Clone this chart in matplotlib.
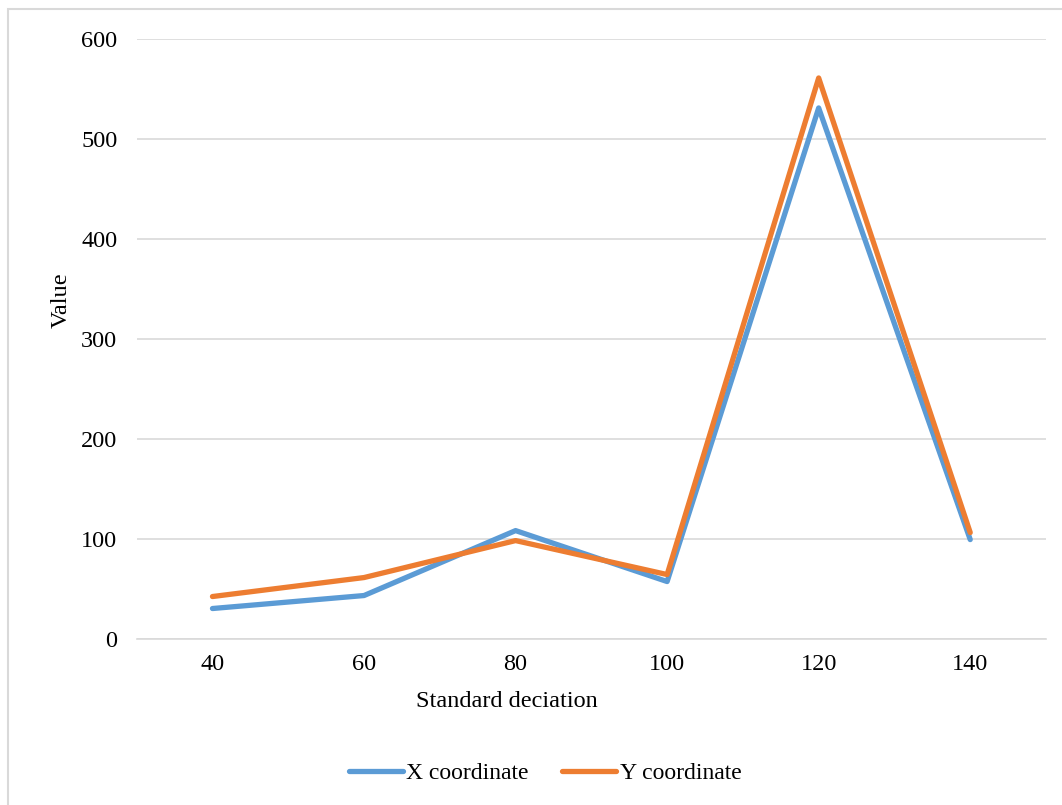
import numpy as np
import matplotlib.pyplot as plt
from matplotlib.patches import Rectangle

plt.rcParams['font.family'] = ['Liberation Serif', 'DejaVu Serif']

# data
categories = ['40', '60', '80', '100', '120', '140']
x_coord = [30, 43, 108, 57, 531, 99]
y_coord = [42, 61, 98, 64, 561, 106]

W, H = 1062, 805
fig = plt.figure(figsize=(W / 100, H / 100), dpi=100)
ax = fig.add_axes([136.7 / W, 1 - 638.5 / H, (1046 - 136.7) / W, (638.5 - 39) / H])

pos = np.arange(len(categories))
ax.plot(pos, x_coord, color='#5B9BD5', lw=3.8, solid_capstyle='round',
        solid_joinstyle='round', label='X coordinate', zorder=3)
ax.plot(pos, y_coord, color='#ED7D31', lw=3.8, solid_capstyle='round',
        solid_joinstyle='round', label='Y coordinate', zorder=4)

ax.set_xlim(-0.5, len(categories) - 0.5)
ax.set_ylim(0, 600)
ax.set_yticks(np.arange(0, 601, 100))
ax.set_xticks(pos)
ax.set_xticklabels(categories)
ax.grid(axis='y', color='#D9D9D9', lw=1.2)
ax.set_axisbelow(True)
for s in ['left', 'right', 'top']:
    ax.spines[s].set_visible(False)
ax.spines['bottom'].set_color('#D9D9D9')
ax.spines['bottom'].set_linewidth(1.2)
ax.tick_params(length=0, labelsize=17.5, colors='black')
ax.tick_params(axis='y', pad=14)
ax.tick_params(axis='x', pad=11)

fig.text(61 / W, 1 - 300 / H, 'Value', rotation=90, fontsize=17.5,
         ha='center', va='center')
fig.text(507 / W, 1 - 701 / H, 'Standard deciation', fontsize=17.5,
         ha='center', va='center')

fig.legend(loc='center', bbox_to_anchor=(545 / W, 1 - 773 / H), ncol=2,
           frameon=False, fontsize=17, handlelength=2.3, handletextpad=0.15,
           columnspacing=1.4)

# chart border
fig.patches.append(Rectangle((8 / W, -0.1), 1.2, 1.1 - 9.5 / H,
                             transform=fig.transFigure, fill=False,
                             edgecolor='#D9D9D9', lw=1.5))

fig.savefig('out.png', dpi=100)
